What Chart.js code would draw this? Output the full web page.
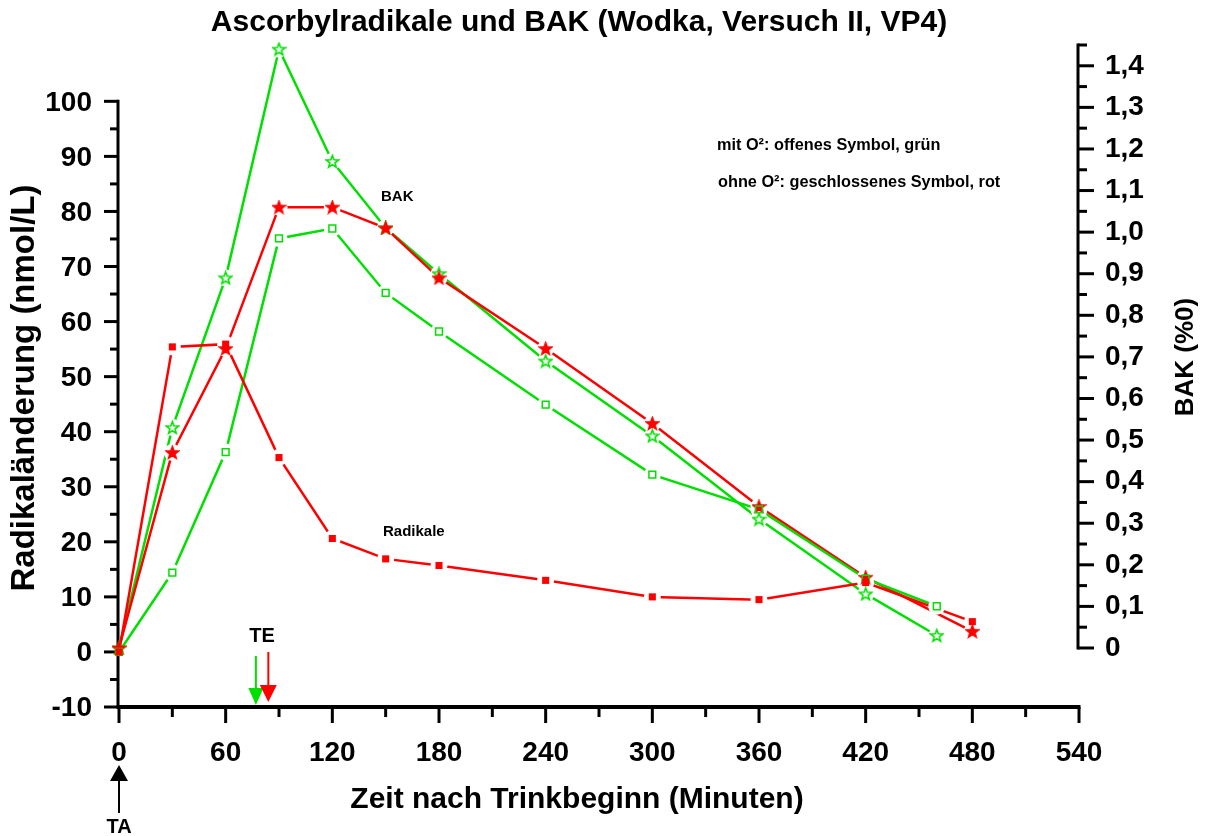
<!DOCTYPE html>
<html>
<head>
<meta charset="utf-8">
<title>Ascorbylradikale und BAK</title>
<script src="https://cdn.jsdelivr.net/npm/chart.js@4/dist/chart.umd.min.js"></script>
<style>
  html, body { margin: 0; padding: 0; background: #fff; }
  #wrap { width: 1209px; height: 836px; position: relative; }
</style>
</head>
<body>
<div id="wrap"><canvas id="c"></canvas></div>
<script>
// Zeitpunkte (Minuten nach Trinkbeginn)
const minutesNoO2 = [0, 30, 60, 90, 120, 150, 180, 240, 300, 360, 420, 480];
const minutesO2   = [0, 30, 60, 90, 120, 150, 180, 240, 300, 360, 420, 460];

// Radikaländerung (nmol/L)
const radicalsNoO2 = [0, 55.4, 55.9, 35.3, 20.6, 16.9, 15.7, 13.0, 10.0, 9.5, 12.6, 5.5];
const radicalsO2   = [0, 14.4, 36.3, 75.1, 76.9, 65.2, 58.2, 44.9, 32.2, 25.9, 13.3, 8.3];

// BAK (Promille)
const bacNoO2 = [0, 0.47, 0.72, 1.06, 1.06, 1.01, 0.89, 0.72, 0.54, 0.34, 0.17, 0.04];
const bacO2   = [0, 0.53, 0.89, 1.44, 1.17, 1.01, 0.90, 0.69, 0.51, 0.31, 0.13, 0.03];

// Trinkbeginn (TA) und Trinkende (TE: mit O², ohne O²)
const drinkStart = 0;
const drinkEnd = [77, 84];

// Achsen
const xTickValues = [0, 60, 120, 180, 240, 300, 360, 420, 480, 540];
const leftTickValues = [-10, 0, 10, 20, 30, 40, 50, 60, 70, 80, 90, 100];
const rightTickLabels = ['0', '0,1', '0,2', '0,3', '0,4', '0,5', '0,6', '0,7', '0,8', '0,9', '1,0', '1,1', '1,2', '1,3', '1,4'];

const RED = '#ff0000';
const GREEN = '#00e000';
const FONT = '"Liberation Sans", Arial, Helvetica, sans-serif';

function pairs(xs, ys) { return xs.map((x, i) => ({ x: x, y: ys[i] })); }

function starImage(fill, stroke) {
  const size = 15;
  const c = document.createElement('canvas');
  c.width = size; c.height = size;
  const g = c.getContext('2d');
  const cx = size / 2, cy = size / 2 + 0.5, R = 6.4, r = 2.7;
  g.beginPath();
  for (let i = 0; i < 10; i++) {
    const a = -Math.PI / 2 + i * Math.PI / 5;
    const rad = i % 2 ? r : R;
    g.lineTo(cx + rad * Math.cos(a), cy + rad * Math.sin(a));
  }
  g.closePath();
  if (fill) { g.fillStyle = fill; g.fill(); }
  if (stroke) { g.lineJoin = 'miter'; g.lineWidth = 1.6; g.strokeStyle = stroke; g.stroke(); }
  return c;
}
const starRed = starImage(RED, RED);
const starGreen = starImage(null, GREEN);

const series = [
  { xs: minutesNoO2, ys: radicalsNoO2, axis: 'y',  color: RED,   marker: { pointStyle: 'rect', pointRadius: 5, pointBackgroundColor: RED, pointBorderColor: RED, pointBorderWidth: 0 } },
  { xs: minutesO2,   ys: radicalsO2,   axis: 'y',  color: GREEN, marker: { pointStyle: 'rect', pointRadius: 4.8, pointBackgroundColor: 'rgba(0,0,0,0)', pointBorderColor: GREEN, pointBorderWidth: 1.5 } },
  { xs: minutesNoO2, ys: bacNoO2,      axis: 'y2', color: RED,   marker: { pointStyle: starRed, pointRadius: 7 } },
  { xs: minutesO2,   ys: bacO2,        axis: 'y2', color: GREEN, marker: { pointStyle: starGreen, pointRadius: 7 } }
];

// Reihenfolge: Linien zuerst, dann weisse Freiraeume, dann Symbole obenauf
const lineSets = [], gapSets = [], markerSets = [];
series.forEach(s => {
  lineSets.push({ data: pairs(s.xs, s.ys), yAxisID: s.axis, borderColor: s.color, borderWidth: 2.5,
    pointRadius: 0, fill: false, tension: 0, clip: false });
  gapSets.push({ data: pairs(s.xs, s.ys), yAxisID: s.axis, showLine: false, borderColor: '#ffffff',
    pointStyle: 'circle', pointRadius: s.xs.map((x, i) => i === 0 ? 0 : 8.5),
    pointBackgroundColor: '#ffffff', pointBorderColor: '#ffffff', pointBorderWidth: 0, clip: false });
  markerSets.push(Object.assign({ data: pairs(s.xs, s.ys), yAxisID: s.axis, showLine: false, borderColor: s.color, clip: false }, s.marker));
});
// der erste Datensatz liegt oben
const datasets = [].concat(markerSets, gapSets, lineSets);

function seg(ctx, x1, y1, x2, y2) { ctx.beginPath(); ctx.moveTo(x1, y1); ctx.lineTo(x2, y2); ctx.stroke(); }
function tri(ctx, x, tipY, baseY, half, color) {
  ctx.fillStyle = color; ctx.beginPath();
  ctx.moveTo(x - half, baseY); ctx.lineTo(x + half, baseY); ctx.lineTo(x, tipY); ctx.closePath(); ctx.fill();
}

const axesPlugin = {
  id: 'axesDecor',
  beforeDatasetsDraw(chart) {
    const { ctx, chartArea, scales: { x, y, y2 } } = chart;
    ctx.save();
    ctx.strokeStyle = '#000';
    ctx.lineCap = 'butt';
    // linke Achse
    const xl = x.getPixelForValue(0) - 1;
    ctx.lineWidth = 3;
    seg(ctx, xl, y.getPixelForValue(100) - 1.5, xl, chartArea.bottom);
    for (let v = -10; v <= 100; v += 5) {
      const py = y.getPixelForValue(v);
      seg(ctx, xl - (v % 10 === 0 ? 14 : 8), py, xl, py);
    }
    // rechte Achse
    const xr = x.getPixelForValue(540) - 1;
    seg(ctx, xr, y2.getPixelForValue(0) + 1.5, xr, y2.getPixelForValue(1.45) - 1.5);
    for (let i = 0; i <= 29; i++) {
      const py = y2.getPixelForValue(i * 0.05);
      seg(ctx, xr, py, xr + (i % 2 === 0 ? 16 : 9), py);
    }
    // x-Achse
    const yb = chartArea.bottom;
    ctx.lineWidth = 4;
    seg(ctx, xl - 1.5, yb, x.getPixelForValue(540) + 1.5, yb);
    ctx.lineWidth = 3;
    for (let v = 0; v <= 540; v += 30) {
      const px = x.getPixelForValue(v);
      seg(ctx, px, yb, px, yb + (v % 60 === 0 ? 16 : 10));
    }
    ctx.restore();
  },
  afterDatasetsDraw(chart) {
    const { ctx, chartArea, scales: { x } } = chart;
    const yb = chartArea.bottom;
    ctx.save();
    // TE-Pfeile
    const teColors = [GREEN, RED];
    const teTop = [51, 55];
    const teHead = [18, 21];
    const teTip = [2, 5];
    const teHalf = [7.5, 8.5];
    drinkEnd.forEach((t, i) => {
      const px = x.getPixelForValue(t);
      ctx.strokeStyle = teColors[i]; ctx.lineWidth = 2;
      seg(ctx, px, yb - teTop[i], px, yb - teHead[i]);
      tri(ctx, px, yb - teTip[i], yb - teHead[i] - 1, teHalf[i], teColors[i]);
    });
    // TA-Pfeil
    const pa = x.getPixelForValue(drinkStart);
    ctx.strokeStyle = '#000'; ctx.lineWidth = 2;
    seg(ctx, pa, yb + 72, pa, yb + 106);
    tri(ctx, pa, yb + 58, yb + 74, 9, '#000');

    ctx.fillStyle = '#000';
    ctx.textBaseline = 'middle';
    ctx.textAlign = 'center';
    ctx.font = 'bold 20px ' + FONT;
    ctx.fillText('TE', (x.getPixelForValue(drinkEnd[0]) + x.getPixelForValue(drinkEnd[1])) / 2, yb - 71);
    ctx.fillText('TA', pa, yb + 120);

    // Titel
    ctx.font = 'bold 30px ' + FONT;
    ctx.textBaseline = 'alphabetic';
    ctx.fillText('Ascorbylradikale und BAK (Wodka, Versuch II, VP4)', 579, 31);

    // Achsentitel
    ctx.font = 'bold 30px ' + FONT;
    ctx.textBaseline = 'middle';
    ctx.fillText('Zeit nach Trinkbeginn (Minuten)', 577, 800);
    ctx.save();
    ctx.translate(25, 388); ctx.rotate(-Math.PI / 2);
    ctx.font = 'bold 33px ' + FONT;
    ctx.fillText('Radikaländerung (nmol/L)', 0, 0);
    ctx.restore();
    ctx.save();
    ctx.translate(1186, 357); ctx.rotate(-Math.PI / 2);
    ctx.font = 'bold 26px ' + FONT;
    ctx.fillText('BAK (%0)', 0, 0);
    ctx.restore();

    // Beschriftungen im Diagramm
    ctx.textAlign = 'left';
    ctx.font = 'bold 15px ' + FONT;
    ctx.fillText('BAK', 381, 197);
    ctx.fillText('Radikale', 383, 532);
    ctx.font = 'bold 16.3px ' + FONT;
    ctx.fillText('mit O²: offenes Symbol, grün', 717, 146);
    ctx.fillText('ohne O²: geschlossenes Symbol, rot', 718, 183);
    ctx.restore();
  }
};

const tickFont = { family: FONT, size: 28, weight: 'bold' };

new Chart(document.getElementById('c'), {
  type: 'line',
  data: { datasets: datasets },
  plugins: [axesPlugin],
  options: {
    responsive: true,
    maintainAspectRatio: false,
    animation: false,
    events: [],
    layout: { padding: { left: 0, right: 0, top: 45, bottom: 0 } },
    plugins: { legend: { display: false }, tooltip: { enabled: false }, title: { display: false } },
    scales: {
      x: {
        type: 'linear', min: 0, max: 540,
        afterFit: s => { s.height = 129; },
        afterBuildTicks: s => { s.ticks = xTickValues.map(v => ({ value: v })); },
        grid: { display: false, drawTicks: false },
        border: { display: false },
        ticks: { font: tickFont, color: '#000', padding: 29, autoSkip: false, maxRotation: 0, minRotation: 0 }
      },
      y: {
        type: 'linear', position: 'left', min: -10, max: 110.23,
        afterFit: s => { s.width = 119; },
        afterBuildTicks: s => { s.ticks = leftTickValues.map(v => ({ value: v })); },
        grid: { display: false, drawTicks: false },
        border: { display: false },
        ticks: { font: tickFont, color: '#000', padding: 27, labelOffset: 1.5, autoSkip: false, callback: v => String(v) }
      },
      y2: {
        type: 'linear', position: 'right', min: -0.1419, max: 1.45,
        afterFit: s => { s.width = 130; },
        afterBuildTicks: s => { s.ticks = rightTickLabels.map((t, i) => ({ value: i / 10 })); },
        grid: { display: false, drawTicks: false },
        border: { display: false },
        ticks: { font: tickFont, color: '#000', padding: 26, autoSkip: false,
          callback: (v, i) => rightTickLabels[i] }
      }
    }
  }
});
</script>
</body>
</html>
